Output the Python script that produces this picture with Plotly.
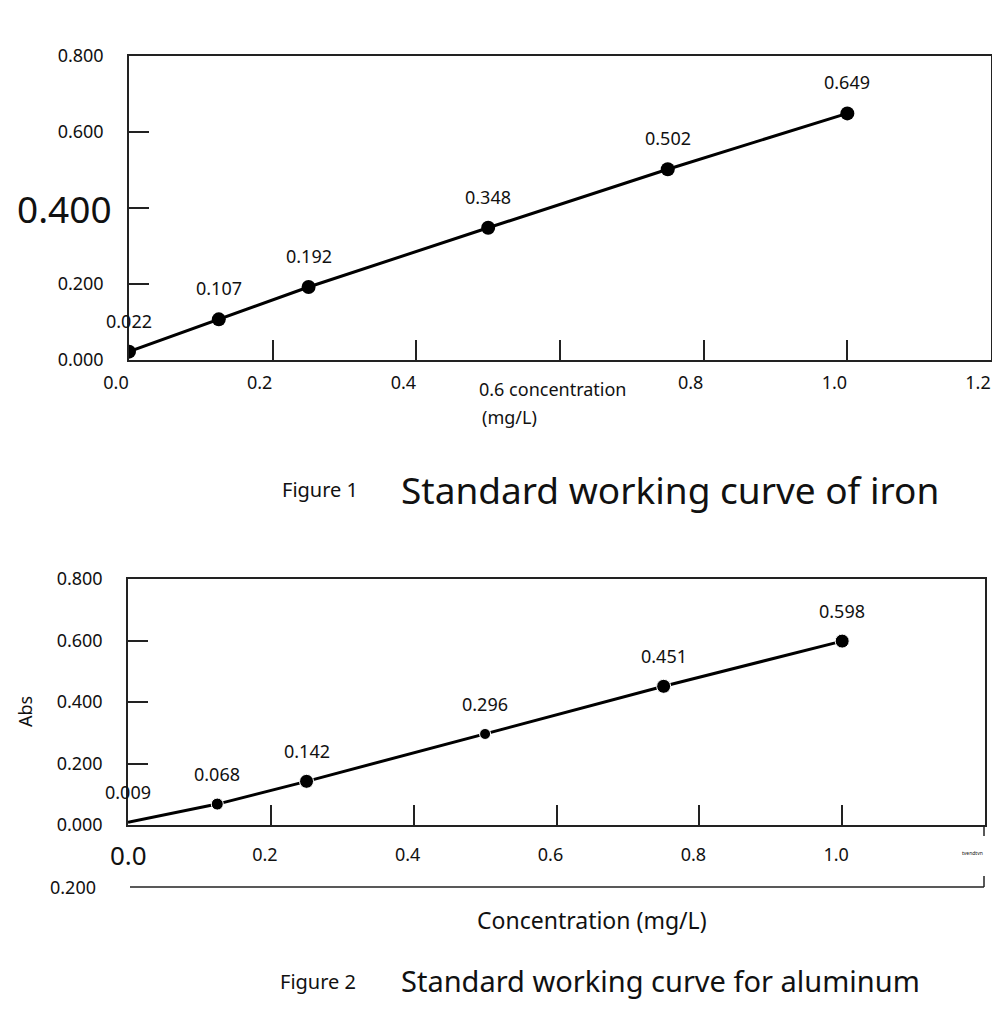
import plotly.graph_objects as go

# Figure 1: iron standard working curve
iron_conc = [0.0, 0.125, 0.25, 0.5, 0.75, 1.0]
iron_abs = [0.022, 0.107, 0.192, 0.348, 0.502, 0.649]

# Figure 2: aluminum standard working curve
al_conc = [0.0, 0.125, 0.25, 0.5, 0.75, 1.0]
al_abs = [0.009, 0.068, 0.142, 0.296, 0.451, 0.598]

y_ticks = [0.0, 0.2, 0.4, 0.6, 0.8]
x_ticks = [0.0, 0.2, 0.4, 0.6, 0.8, 1.0, 1.2]

FONT = "Noto Sans"
INK = "#111"
# the page body adds an 8px margin, so the figure is a bit smaller
OFF = 8
W, H = 1000 - 2 * OFF, 1014 - 2 * OFF


def px_x(p):
    return (p - OFF) / W


def px_y(p):
    return 1 - (p - OFF) / H


def text(x, y, s, size, xanchor="center", yanchor="middle", **kw):
    return dict(x=px_x(x), y=px_y(y), xref="paper", yref="paper", text=s,
                xanchor=xanchor, yanchor=yanchor, showarrow=False,
                font=dict(family=FONT, size=size, color=INK), **kw)


fig = go.Figure()

fig.add_trace(go.Scatter(
    x=iron_conc, y=iron_abs, mode="lines+markers",
    line=dict(color="black", width=3),
    marker=dict(color="black", size=14, opacity=1),
    xaxis="x", yaxis="y", showlegend=False,
))
fig.add_trace(go.Scatter(
    x=al_conc, y=al_abs, mode="lines+markers",
    line=dict(color="black", width=3),
    marker=dict(color="black", size=[0, 12, 14, 11, 14, 14], opacity=1),
    xaxis="x2", yaxis="y2", showlegend=False,
))

axis_common = dict(
    showline=True, linecolor="#222", linewidth=1.5, mirror=True,
    showgrid=False, zeroline=False, ticks="inside", ticklen=20,
    tickcolor="#222", tickwidth=1.5, automargin=False,
    ticklabeloverflow="allow",
    tickfont=dict(family=FONT, size=18, color=INK),
)

fig.update_layout(
    xaxis=dict(
        axis_common, domain=[px_x(129), px_x(991)], range=[0, 1.2],
        anchor="y", tickvals=x_ticks,
        ticktext=["0.0", "0.2", "0.4", "", "0.8", "1.0", "1.2"],
        ticklabelstandoff=6, ticklabelshift=-13,
    ),
    yaxis=dict(
        axis_common, domain=[px_y(360), px_y(56)], range=[0, 0.8],
        anchor="x", tickvals=y_ticks,
        ticktext=["0.000", "0.200", "", "0.600", "0.800"],
        ticklabelstandoff=20,
    ),
    xaxis2=dict(
        axis_common, domain=[px_x(128), px_x(985)], range=[0, 1.2],
        anchor="y2", tickvals=x_ticks,
        ticktext=["", "0.2", "0.4", "0.6", "0.8", "1.0", ""],
        ticklabelstandoff=13, ticklabelshift=-6,
    ),
    yaxis2=dict(
        axis_common, domain=[px_y(825), px_y(579)], range=[0, 0.8],
        anchor="x2", tickvals=y_ticks,
        ticktext=["0.000", "0.200", "0.400", "0.600", "0.800"],
        ticklabelstandoff=20,
    ),
)

annotations = []
# value labels above points
for cx, cy in zip(iron_conc, iron_abs):
    annotations.append(dict(
        x=cx, y=cy, xref="x", yref="y", text=f"{cy:.3f}", showarrow=False,
        xanchor="center", yanchor="middle", yshift=31,
        font=dict(family=FONT, size=18, color=INK),
    ))
for cx, cy in zip(al_conc, al_abs):
    annotations.append(dict(
        x=cx, y=cy, xref="x2", yref="y2", text=f"{cy:.3f}", showarrow=False,
        xanchor="center", yanchor="middle", yshift=30,
        font=dict(family=FONT, size=18, color=INK),
    ))

annotations += [
    # oversized / odd tick labels
    dict(x=px_x(114), y=0.4, xref="paper", yref="y", text="0.400",
         xanchor="right", yanchor="middle", showarrow=False,
         font=dict(family=FONT, size=37, color=INK)),
    dict(x=0.0, y=px_y(855), xref="x2", yref="paper", text="0.0",
         xanchor="center", yanchor="middle", showarrow=False,
         font=dict(family=FONT, size=26, color=INK)),
    text(477, 389, "0.6 concentration", 18, xanchor="left"),
    text(480, 417, "(mg/L)", 18, xanchor="left"),
    text(25, 712, "Abs", 18, textangle=-90),
    text(98, 887, "0.200", 18, xanchor="right"),
    text(972, 853, "tvendtvn", 5),
    text(592, 920, "Concentration (mg/L)", 23),
    # captions
    text(360, 489, "Figure 1", 20, xanchor="right"),
    text(399, 489, "Standard working curve of iron", 37, xanchor="left"),
    text(358, 981, "Figure 2", 20, xanchor="right"),
    text(399, 980, "Standard working curve for aluminum", 29, xanchor="left"),
]

shapes = [
    dict(type="line", xref="paper", yref="paper",
         x0=px_x(130), x1=px_x(984), y0=px_y(887), y1=px_y(887),
         line=dict(color="#222", width=1.5)),
    dict(type="line", xref="paper", yref="paper",
         x0=px_x(984), x1=px_x(984), y0=px_y(876), y1=px_y(887),
         line=dict(color="#222", width=1.5)),
    dict(type="line", xref="paper", yref="paper",
         x0=px_x(984), x1=px_x(984), y0=px_y(825), y1=px_y(836),
         line=dict(color="#222", width=1.5)),
]

fig.update_layout(
    width=W, height=H, margin=dict(l=0, r=0, t=0, b=0),
    paper_bgcolor="white", plot_bgcolor="white",
    annotations=annotations, shapes=shapes,
)

fig.write_html("out.html")
